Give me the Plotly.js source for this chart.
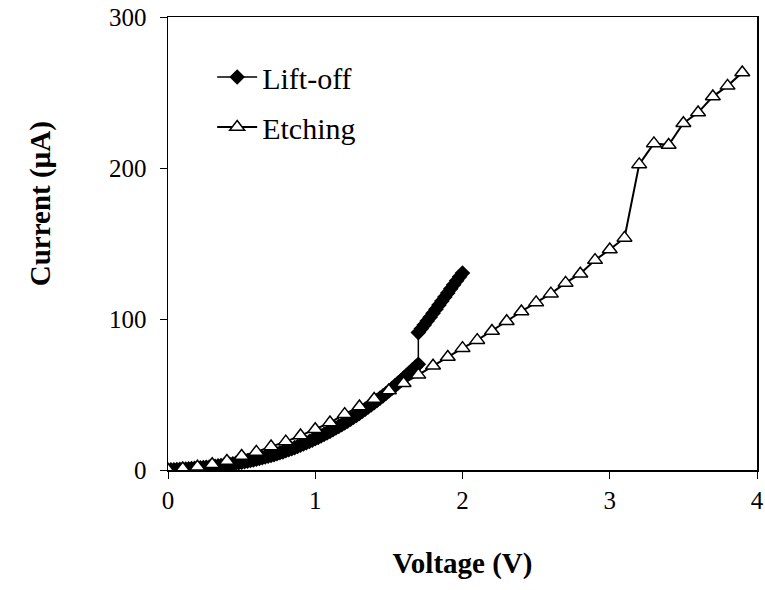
<!DOCTYPE html>
<html>
<head>
<meta charset="utf-8">
<script src="https://cdn.plot.ly/plotly-3.0.1.min.js"></script>
<style>html,body{margin:0;padding:0;background:#fff;}#chart{width:765px;height:590px;}</style>
</head>
<body>
<div id="chart"></div>
<script>
// Lift-off series (dense measurement points)
var liftoffV = [0.00,0.02,0.04,0.06,0.08,0.10,0.12,0.14,0.16,0.18,0.20,0.22,0.24,0.26,0.28,0.30,0.32,0.34,0.36,0.38,0.40,0.42,0.44,0.46,0.48,0.50,0.52,0.54,0.56,0.58,0.60,0.62,0.64,0.66,0.68,0.70,0.72,0.74,0.76,0.78,0.80,0.82,0.84,0.86,0.88,0.90,0.92,0.94,0.96,0.98,1.00,1.02,1.04,1.06,1.08,1.10,1.12,1.14,1.16,1.18,1.20,1.22,1.24,1.26,1.28,1.30,1.32,1.34,1.36,1.38,1.40,1.42,1.44,1.46,1.48,1.50,1.52,1.54,1.56,1.58,1.60,1.62,1.64,1.66,1.68,1.70,1.70,1.72,1.74,1.76,1.78,1.80,1.82,1.84,1.86,1.88,1.90,1.92,1.94,1.96,1.98,2.00];
var liftoffI = [0,0.1,0.2,0.3,0.4,0.5,0.6,0.75,0.9,1.05,1.2,1.4,1.6,1.8,2.0,2.2,2.45,2.7,2.95,3.2,3.5,3.8,4.1,4.4,4.75,5.1,5.5,5.9,6.3,6.7,7.1,7.6,8.1,8.6,9.1,9.6,10.2,10.8,11.4,12.0,12.7,13.4,14.1,14.8,15.6,16.4,17.2,18.0,18.9,19.8,20.7,21.6,22.6,23.6,24.6,25.6,26.7,27.8,28.9,30.0,31.2,32.4,33.6,34.9,36.2,37.5,38.9,40.3,41.7,43.1,44.6,46.1,47.6,49.1,50.7,52.3,54.0,55.7,57.4,59.1,60.9,62.7,64.5,66.3,68.2,70.0,91.0,93.5,96.0,98.6,101.2,103.8,106.5,109.2,111.9,114.6,117.3,120.0,122.7,125.3,127.9,130.5];

// Etching series
var etchV = [0.0,0.1,0.2,0.3,0.4,0.5,0.6,0.7,0.8,0.9,1.0,1.1,1.2,1.3,1.4,1.5,1.6,1.7,1.8,1.9,2.0,2.1,2.2,2.3,2.4,2.5,2.6,2.7,2.8,2.9,3.0,3.1,3.2,3.3,3.4,3.5,3.6,3.7,3.8,3.9];
var etchI = [0,1,2.2,3.8,6,9.3,12,15.5,18.8,22.8,27,31.4,37,42,47,52.6,57.5,63,69,74.8,80.7,86,92,98.5,105,111,116.8,123.9,130,139,146,153.7,202.4,216.3,215.2,229.6,236.7,247.3,254.4,263.2];

var seriesNames = ["Lift-off", "Etching"];
var xTicks = [0,1,2,3,4];
var yTicks = [0,100,200,300];
var xTitle = "<b>Voltage (V)</b>";
var yTitle = "<b>Current (µA)</b>";

var FONT = "Liberation Serif, Times New Roman, serif";

var traces = [
  {
    x: liftoffV, y: liftoffI, name: seriesNames[0], legendgroup: "a",
    type: "scatter", mode: "lines+markers",
    line: {color: "#000", width: 1.5},
    marker: {symbol: "diamond", size: 12, color: "#000", line: {width: 0}}
  },
  {
    x: etchV, y: etchI, name: seriesNames[1], legendgroup: "b",
    type: "scatter", mode: "lines+markers",
    line: {color: "#000", width: 2},
    marker: {symbol: "triangle-up", size: 13, color: "#fff", line: {color: "#000", width: 1.5}}
  }
];

var layout = {
  width: 765, height: 590,
  margin: {l: 168, r: 8, t: 17, b: 120},
  paper_bgcolor: "#fff", plot_bgcolor: "#fff",
  font: {family: FONT, size: 25, color: "#000"},
  showlegend: true,
  legend: {x: 0.075, y: 0.925, xanchor: "left", yanchor: "top", bgcolor: "rgba(0,0,0,0)",
           itemwidth: 40,
           font: {family: FONT, size: 30, color: "#000"}, traceorder: "grouped", tracegroupgap: 8},
  xaxis: {
    range: [0, 4], tickvals: xTicks, ticktext: xTicks.map(String),
    showgrid: false, zeroline: false, showline: true, linecolor: "#000", linewidth: 1.5, mirror: true,
    ticks: "outside", ticklen: 7, tickwidth: 1, tickcolor: "#000",
    tickfont: {family: FONT, size: 25},
    title: {text: xTitle, font: {family: FONT, size: 29}, standoff: 40}
  },
  yaxis: {
    range: [0, 300], tickvals: yTicks, ticktext: yTicks.map(String),
    showgrid: false, zeroline: false, showline: true, linecolor: "#000", linewidth: 1.5, mirror: true,
    ticks: "outside", ticklen: 7, tickwidth: 1, tickcolor: "#000", ticklabelstandoff: 8,
    tickfont: {family: FONT, size: 25}
  },
  annotations: [{
    text: yTitle, xref: "paper", yref: "paper", x: -0.217, y: 0.587,
    xanchor: "center", yanchor: "middle", textangle: -90, showarrow: false,
    font: {family: FONT, size: 29, color: "#000"}
  }]
};

Plotly.newPlot("chart", traces, layout, {displayModeBar: false, staticPlot: true});
</script>
</body>
</html>
